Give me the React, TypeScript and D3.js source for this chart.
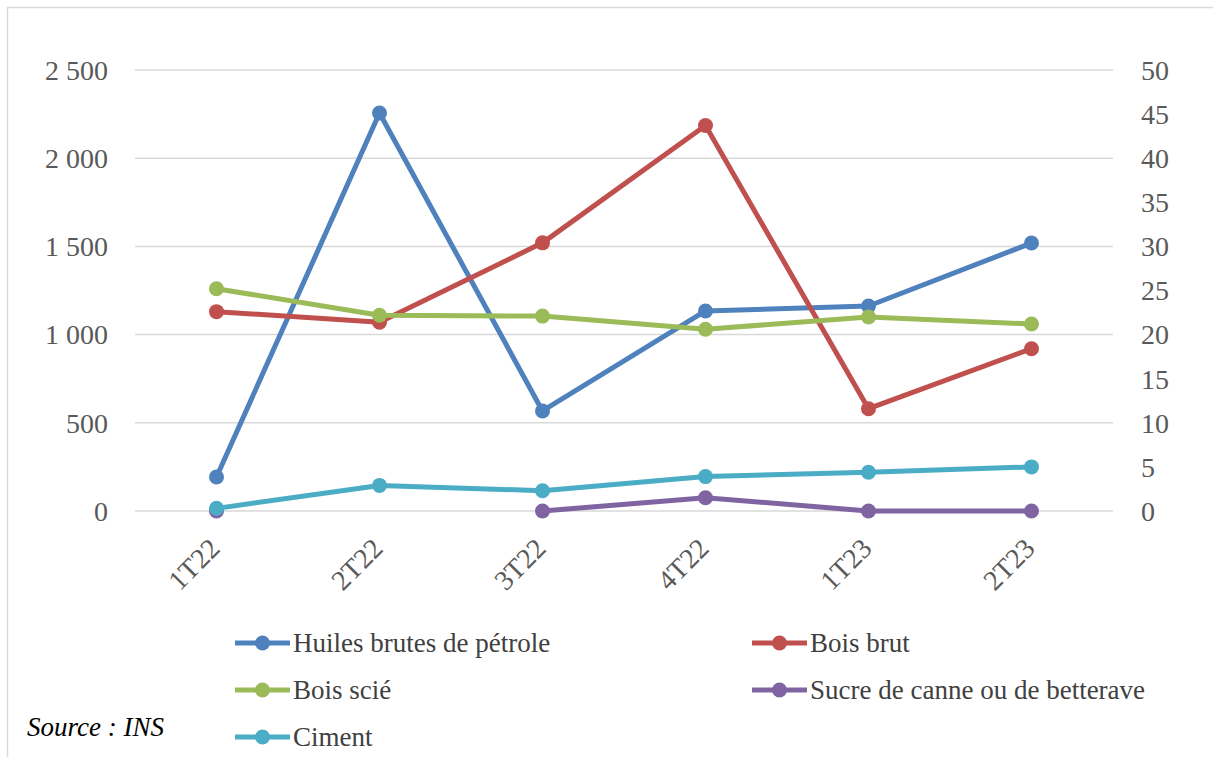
import React from "react";
import * as d3 from "d3";

const categories = ["1T22", "2T22", "3T22", "4T22", "1T23", "2T23"];
const leftTicks = [0, 500, 1000, 1500, 2000, 2500];
const rightTicks = [0, 5, 10, 15, 20, 25, 30, 35, 40, 45, 50];

const huiles: (number | null)[] = [193, 2256, 567, 1134, 1162, 1519];
const boisBrut: (number | null)[] = [22.6, 21.4, 30.4, 43.7, 11.6, 18.4];
const boisScie: (number | null)[] = [25.2, 22.2, 22.1, 20.6, 22.0, 21.2];
const sucre: (number | null)[] = [0, null, 0, 1.5, 0, 0];
const ciment: (number | null)[] = [0.3, 2.9, 2.3, 3.9, 4.4, 5.0];

const series = [
  { name: "Huiles brutes de pétrole", values: huiles, color: "#4F81BD", axis: "left" },
  { name: "Bois brut", values: boisBrut, color: "#C0504D", axis: "right" },
  { name: "Bois scié", values: boisScie, color: "#9BBB59", axis: "right" },
  { name: "Sucre de canne ou de betterave", values: sucre, color: "#8064A2", axis: "right" },
  { name: "Ciment", values: ciment, color: "#4BACC6", axis: "right" },
];

const fmt = (v: number) => {
  const s = String(v);
  return s.length > 3 ? s.slice(0, s.length - 3) + " " + s.slice(-3) : s;
};

const FONT = "'Liberation Serif'";

export default function App() {
  const W = 1213, H = 757;
  const x0 = 135, x1 = 1113, yTop = 70, yBot = 511;
  const x = d3.scaleBand<string>().domain(categories).range([x0, x1]);
  const cx = (c: string) => (x(c) ?? 0) + x.bandwidth() / 2;
  const yL = d3.scaleLinear().domain([0, 2500]).range([yBot, yTop]);
  const yR = d3.scaleLinear().domain([0, 50]).range([yBot, yTop]);
  const ts = { fontFamily: FONT };

  const legendPos = [
    { x: 235, y: 643 },
    { x: 752, y: 643 },
    { x: 235, y: 690 },
    { x: 752, y: 690 },
    { x: 235, y: 737 },
  ];

  return (
    <svg width={W} height={H} style={{ position: "absolute", left: 0, top: 0, background: "#fff" }}>
      <rect x={7.5} y={7.5} width={W + 10} height={H + 10} fill="#fff" stroke="#d9d9d9" strokeWidth={1.5} />
      {leftTicks.map((t) => (
        <line key={t} x1={x0} x2={x1} y1={yL(t)} y2={yL(t)} stroke="#d9d9d9" strokeWidth={1.5} />
      ))}
      {leftTicks.map((t) => (
        <text key={t} x={108} y={yL(t)} dy="0.35em" textAnchor="end" fontSize={28} fill="#595959" style={ts}>
          {fmt(t)}
        </text>
      ))}
      {rightTicks.map((t) => (
        <text key={t} x={1141} y={yR(t)} dy="0.35em" textAnchor="start" fontSize={28} fill="#595959" style={ts}>
          {t}
        </text>
      ))}
      {categories.map((c) => (
        <text
          key={c}
          transform={`translate(${cx(c) + 5},${550}) rotate(-45)`}
          textAnchor="end"
          fontSize={28}
          fill="#595959"
          style={ts}
        >
          {c}
        </text>
      ))}
      {series.map((s) => {
        const y = s.axis === "left" ? yL : yR;
        const line = d3
          .line<number | null>()
          .defined((v) => v !== null)
          .x((_, i) => cx(categories[i]))
          .y((v) => y(v as number));
        return (
          <g key={s.name}>
            <path d={line(s.values) ?? ""} fill="none" stroke={s.color} strokeWidth={5} strokeLinejoin="round" />
            {s.values.map((v, i) =>
              v === null ? null : <circle key={i} cx={cx(categories[i])} cy={y(v)} r={7.5} fill={s.color} />
            )}
          </g>
        );
      })}
      {series.map((s, i) => {
        const p = legendPos[i];
        return (
          <g key={s.name}>
            <line x1={p.x} x2={p.x + 55} y1={p.y} y2={p.y} stroke={s.color} strokeWidth={5} />
            <circle cx={p.x + 27.5} cy={p.y} r={7.5} fill={s.color} />
            <text x={p.x + 58} y={p.y} dy="0.35em" fontSize={27} fill="#404040" style={ts}>
              {s.name}
            </text>
          </g>
        );
      })}
      <text x={27} y={727} dy="0.35em" fontSize={27} fontStyle="italic" fill="#000" style={ts}>
        Source : INS
      </text>
    </svg>
  );
}
